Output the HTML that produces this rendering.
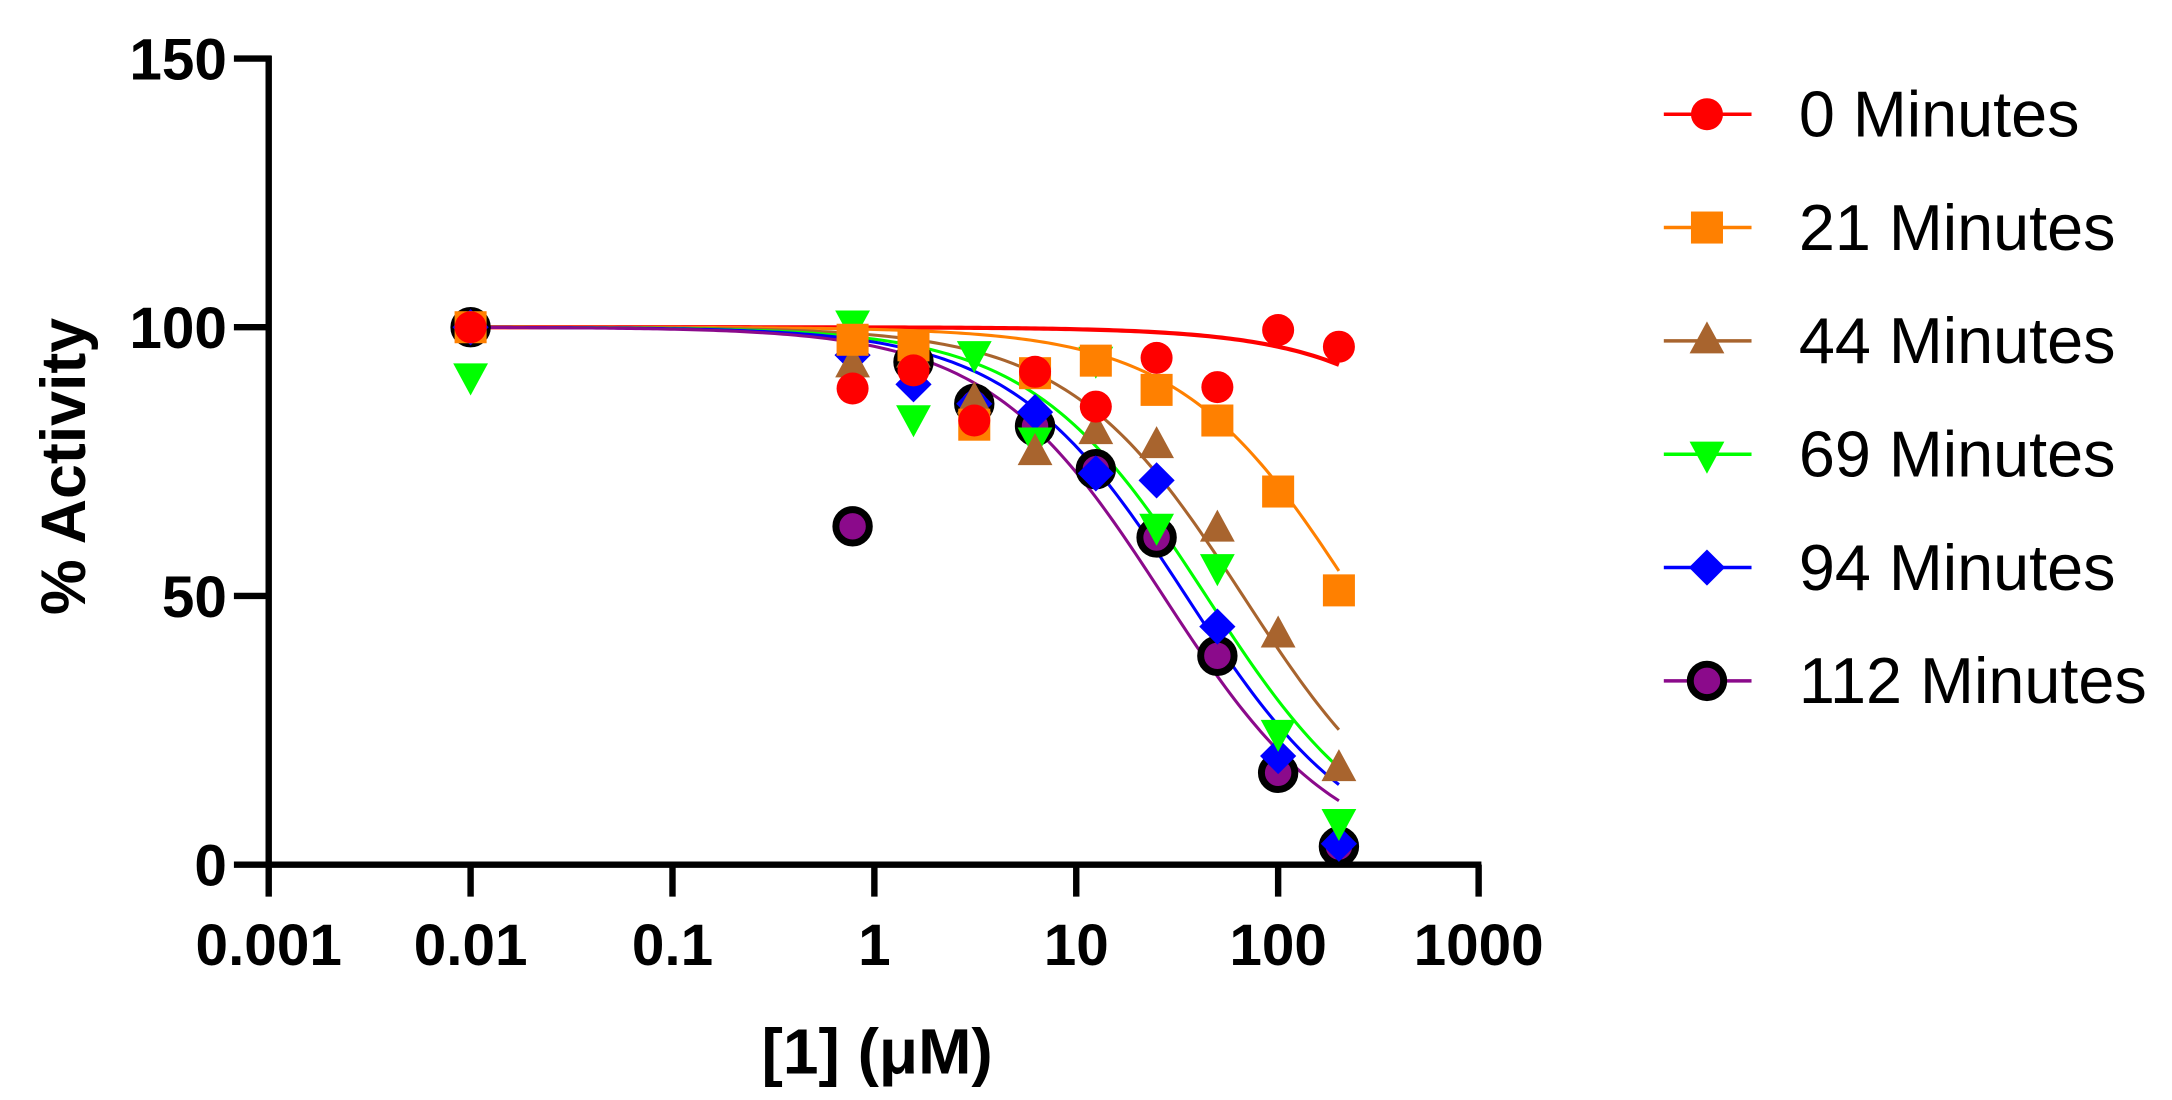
<!DOCTYPE html>
<html><head><meta charset="utf-8"><style>
html,body{margin:0;padding:0;background:#fff;}
svg{display:block;}
text{font-family:"Liberation Sans",Arial,sans-serif;}
</style></head><body>
<svg id="s" width="2172" height="1100" viewBox="0 0 1560 790" xmlns="http://www.w3.org/2000/svg">
<g id="axes" stroke="#000" stroke-width="4.6" fill="none">
<line x1="193" y1="40" x2="193" y2="623"/>
<line x1="191" y1="621" x2="1064" y2="621"/>
<line x1="168" y1="42" x2="195" y2="42"/>
<line x1="168" y1="235" x2="195" y2="235"/>
<line x1="168" y1="428" x2="195" y2="428"/>
<line x1="168" y1="621" x2="195" y2="621"/>
<line x1="193" y1="621" x2="193" y2="644"/>
<line x1="338" y1="621" x2="338" y2="644"/>
<line x1="483" y1="621" x2="483" y2="644"/>
<line x1="628" y1="621" x2="628" y2="644"/>
<line x1="773" y1="621" x2="773" y2="644"/>
<line x1="918" y1="621" x2="918" y2="644"/>
<line x1="1062" y1="621" x2="1062" y2="644"/>
</g>
<g font-size="42" font-weight="bold" fill="#000" text-anchor="end">
<text x="163" y="57">150</text>
<text x="163" y="250">100</text>
<text x="163" y="443">50</text>
<text x="163" y="636">0</text>
</g>
<g font-size="42" font-weight="bold" fill="#000" text-anchor="middle">
<text x="193" y="693">0.001</text>
<text x="338" y="693">0.01</text>
<text x="483" y="693">0.1</text>
<text x="628" y="693">1</text>
<text x="773" y="693">10</text>
<text x="918" y="693">100</text>
<text x="1062" y="693">1000</text>
<text x="630" y="771" font-size="46">[1] (μM)</text>
<text transform="translate(61,335) rotate(-90)" font-size="45">% Activity</text>
</g>
<g id="curves" fill="none"></g>
<g id="pts"></g>
<g id="legend" font-size="46.5" fill="#000"></g>
</svg>
<script>
var NS="http://www.w3.org/2000/svg";
function X(c){return 193+(Math.log10(c)+3)*145;}
function Y(v){return 621-v*3.86;}
var xs=[0.01,0.78,1.5625,3.125,6.25,12.5,25,50,100,200];
var series=[
 {c:"#ff0000",m:"circle",ic:2660,w:3,y:[235,279,266,302,267,292,257,278,237,249],name:"0 Minutes"},
 {c:"#ff8000",m:"square",ic:241,w:2.2,y:[235,244,248,305,268,259,280,302,353,424],name:"21 Minutes"},
 {c:"#a8642e",m:"tri",ic:67,w:2.2,y:[null,262,255,288,325,310,320,380,456,552],name:"44 Minutes"},
 {c:"#00ff00",m:"dtri",ic:44,w:2.2,y:[270,232,300,254,316,258,378,407,526,590],name:"69 Minutes"},
 {c:"#0000ff",m:"diamond",ic:35,w:2.2,y:[235,255,276,290,296,340,345,450,543,606],name:"94 Minutes"},
 {c:"#8b0a8b",m:"ring",ic:27,w:2.2,y:[235,378,260,290,306,337,386,471,555,608],name:"112 Minutes"}
];
function el(t,a,p){var e=document.createElementNS(NS,t);for(var k in a)e.setAttribute(k,a[k]);p.appendChild(e);return e;}
function marker(m,c,x,y,p){
 if(m=="circle")el("circle",{cx:x,cy:y,r:11.5,fill:c},p);
 else if(m=="square")el("rect",{x:x-11.5,y:y-11.5,width:23,height:23,fill:c},p);
 else if(m=="tri")el("polygon",{points:(x)+","+(y-14)+" "+(x+12.5)+","+(y+9)+" "+(x-12.5)+","+(y+9),fill:c},p);
 else if(m=="dtri")el("polygon",{points:(x)+","+(y+14)+" "+(x+12.5)+","+(y-9)+" "+(x-12.5)+","+(y-9),fill:c},p);
 else if(m=="diamond")el("polygon",{points:x+","+(y-13)+" "+(x+13)+","+y+" "+x+","+(y+13)+" "+(x-13)+","+y,fill:c},p);
 else if(m=="ring"){el("circle",{cx:x,cy:y,r:12,fill:c,stroke:"#000","stroke-width":5},p);}
}
var cg=document.getElementById("curves"),pg=document.getElementById("pts"),lg=document.getElementById("legend");
series.forEach(function(s){
 var d="";for(var i=0;i<=200;i++){var lc=-2+i/200*(Math.log10(200)+2);var c=Math.pow(10,lc);var v=100/(1+c/s.ic);d+=(i?"L":"M")+X(c).toFixed(2)+" "+Y(v).toFixed(2);}
 el("path",{d:d,stroke:s.c,"stroke-width":s.w},cg);
});
for(var k=series.length-1;k>=0;k--){var s=series[k];
 for(var i=0;i<xs.length;i++){if(s.y[i]==null)continue;marker(s.m,s.c,X(xs[i]),s.y[i],pg);}
}
series.forEach(function(s,i){var y=82+i*81.4;
 el("line",{x1:1195,y1:y,x2:1258,y2:y,stroke:s.c,"stroke-width":2.5},lg);
 marker(s.m,s.c,1226,y,lg);
 var t=el("text",{x:1292,y:y+16},lg);t.textContent=s.name;
});
</script>
</body></html>
